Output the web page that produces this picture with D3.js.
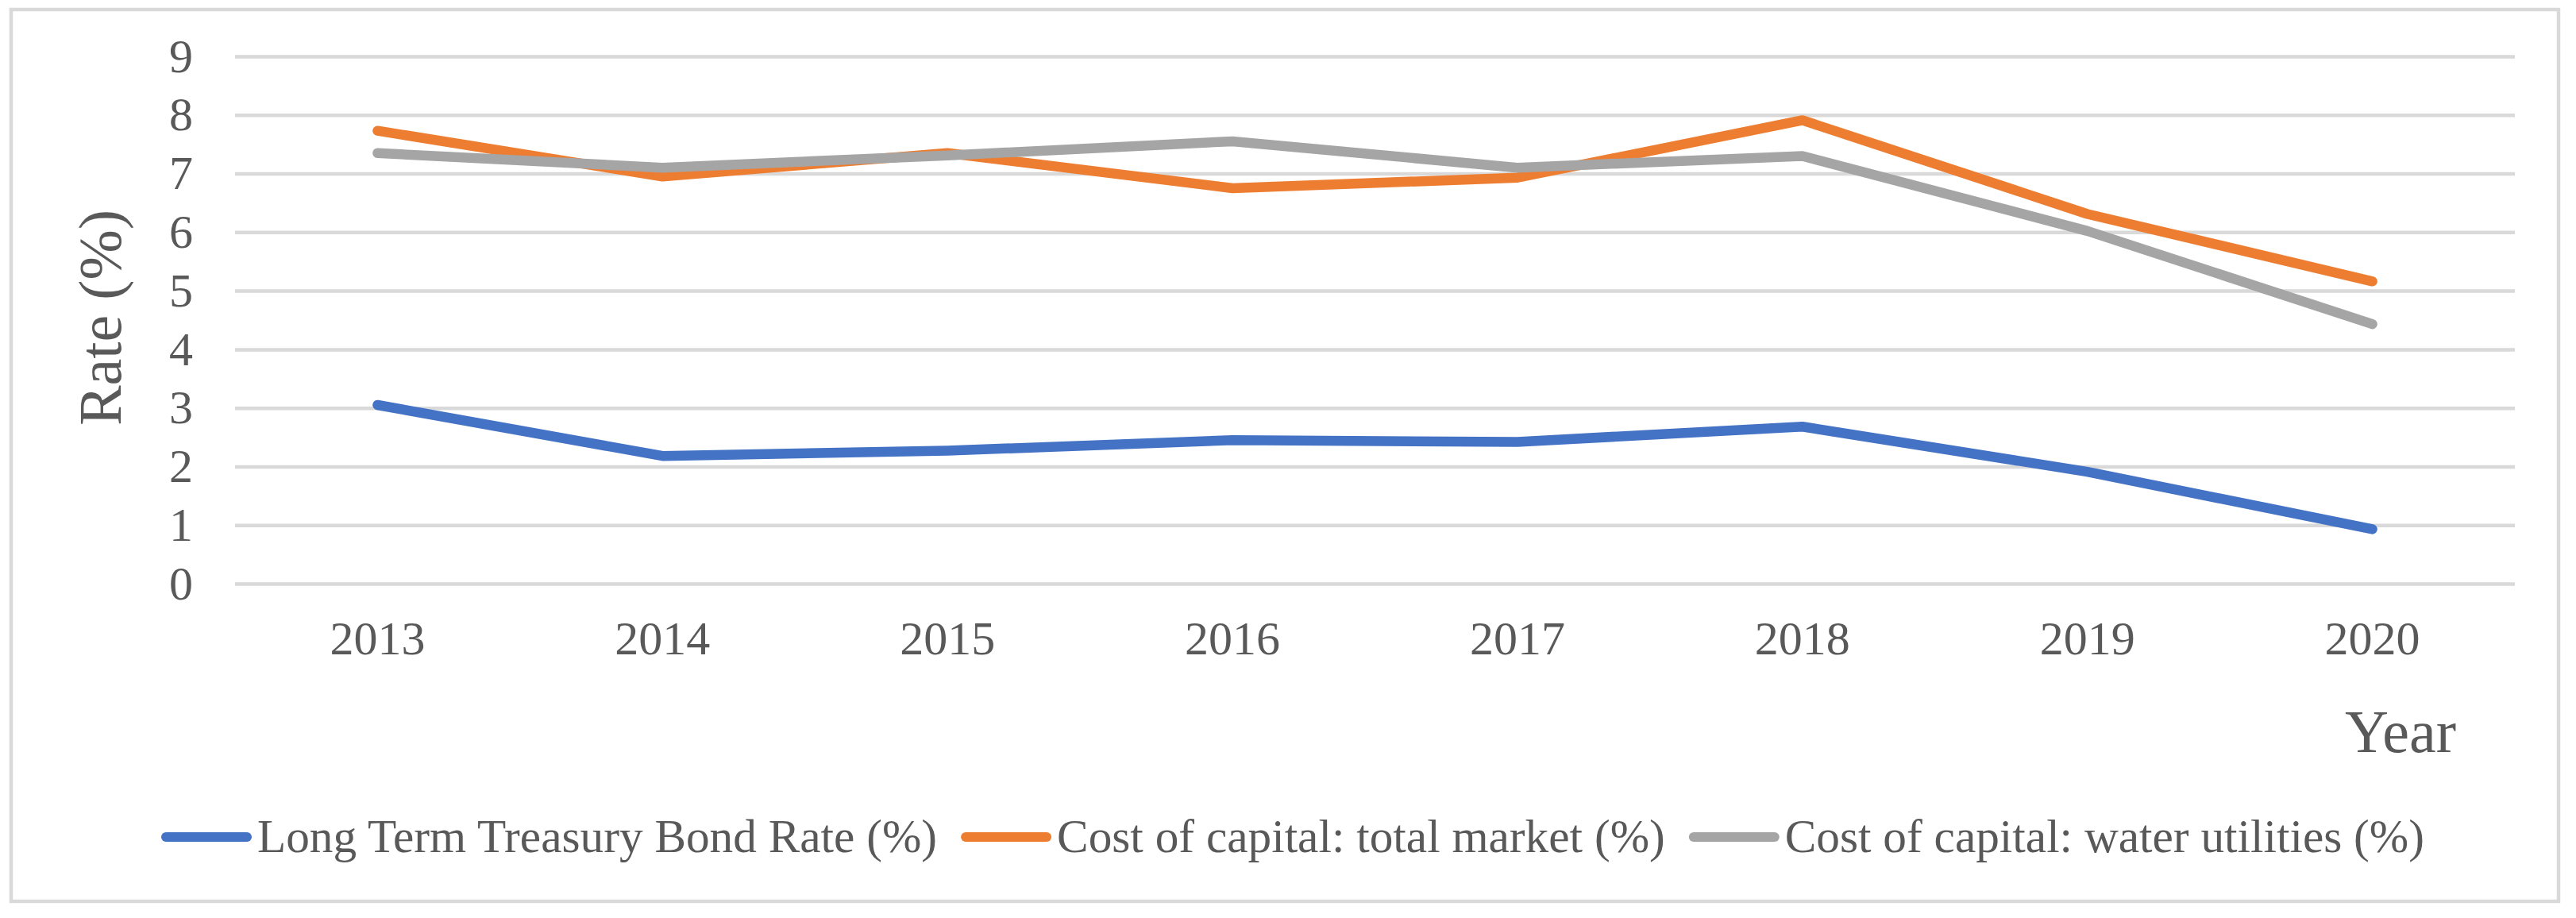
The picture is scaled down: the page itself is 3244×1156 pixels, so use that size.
<!DOCTYPE html>
<html lang="en">
<head>
    <meta charset="UTF-8">
    <title>Rates 2013-2020</title>
    <script src="https://cdnjs.cloudflare.com/ajax/libs/d3/7.8.5/d3.min.js" charset="utf-8"></script>
    <style>
        body {
            margin: 0;
            background: #fff;
        }
        svg text {
            font-family: "Liberation Serif", "Times New Roman", serif;
            fill: #595959;
        }
        .grid line {
            stroke: #d9d9d9;
            stroke-width: 4.5px;
        }
    </style>
</head>
<body>
<svg id="chart" width="3244" height="1156"></svg>
<script>
    var years = ["2013", "2014", "2015", "2016", "2017", "2018", "2019", "2020"];
    var yTicks = [0, 1, 2, 3, 4, 5, 6, 7, 8, 9];

    var seriesNames = [
        "Long Term Treasury Bond Rate (%)",
        "Cost of capital: total market (%)",
        "Cost of capital: water utilities (%)"
    ];
    var treasuryRate = [3.05, 2.18, 2.27, 2.45, 2.42, 2.68, 1.91, 0.93];
    var totalMarket = [7.73, 6.95, 7.35, 6.75, 6.93, 7.91, 6.31, 5.16];
    var waterUtilities = [7.35, 7.1, 7.31, 7.55, 7.1, 7.3, 6.02, 4.43];
    var colors = ["#4472C4", "#ED7D31", "#A5A5A5"];

    var series = [treasuryRate, totalMarket, waterUtilities];

    var svg = d3.select("#chart");

    // outer frame
    svg.append("rect")
            .attr("x", 14)
            .attr("y", 12)
            .attr("width", 3208)
            .attr("height", 1123)
            .attr("fill", "#fff")
            .attr("stroke", "#d9d9d9")
            .attr("stroke-width", 4.5);

    // plot area edges (not "top": that name is taken by window.top)
    var plotLeft = 296, plotRight = 3167, plotTop = 71, plotBottom = 735;

    var x = d3.scaleBand()
            .domain(years)
            .range([plotLeft, plotRight]);

    var y = d3.scaleLinear()
            .domain([0, 9])
            .range([plotBottom, plotTop]);

    // y axis with gridlines
    var yAxis = svg.append("g")
            .attr("class", "grid")
            .attr("transform", "translate(" + plotLeft + ",0)")
            .call(d3.axisLeft(y)
                    .tickValues(yTicks)
                    .tickSize(-(plotRight - plotLeft))
                    .tickPadding(53)
                    .tickFormat(d3.format("d")));
    yAxis.select(".domain").remove();
    yAxis.selectAll("text")
            .style("font-size", "60px")
            .attr("fill", "#595959");

    // x axis labels only
    var xAxis = svg.append("g")
            .attr("transform", "translate(0," + plotBottom + ")")
            .call(d3.axisBottom(x)
                    .tickSize(0)
                    .tickPadding(46));
    xAxis.select(".domain").remove();
    xAxis.selectAll("text")
            .style("font-size", "60px")
            .attr("fill", "#595959");

    // axis titles
    svg.append("text")
            .attr("transform", "translate(152,400) rotate(-90)")
            .attr("text-anchor", "middle")
            .style("font-size", "76px")
            .text("Rate (%)");

    svg.append("text")
            .attr("x", 3093)
            .attr("y", 947)
            .attr("text-anchor", "end")
            .style("font-size", "76px")
            .text("Year");

    var line = d3.line()
            .x(function (d, i) { return x(years[i]) + x.bandwidth() / 2; })
            .y(function (d) { return y(d); });

    svg.selectAll(".series")
            .data(series)
            .enter()
            .append("path")
            .attr("class", "series")
            .attr("d", line)
            .attr("fill", "none")
            .attr("stroke", function (d, i) { return colors[i]; })
            .attr("stroke-width", 12.5)
            .attr("stroke-linejoin", "round")
            .attr("stroke-linecap", "round");

    // legend, laid out from measured text widths
    var legend = svg.append("g");
    var items = legend.selectAll("g")
            .data(seriesNames)
            .enter()
            .append("g");

    items.append("line")
            .attr("x1", 6)
            .attr("x2", 108)
            .attr("y1", 1054)
            .attr("y2", 1054)
            .attr("stroke", function (d, i) { return colors[i]; })
            .attr("stroke-width", 12)
            .attr("stroke-linecap", "round");

    items.append("text")
            .attr("x", 121)
            .attr("y", 1073)
            .style("font-size", "59.3px")
            .text(function (d) { return d; });

    var offsets = [], pos = 0;
    items.each(function () {
        offsets.push(pos);
        pos += 121 + d3.select(this).select("text").node().getComputedTextLength() + 30;
    });
    var total = pos - 30;
    var start = 1628 - total / 2;
    items.attr("transform", function (d, i) {
        return "translate(" + (start + offsets[i]) + ",0)";
    });
</script>
</body>
</html>
